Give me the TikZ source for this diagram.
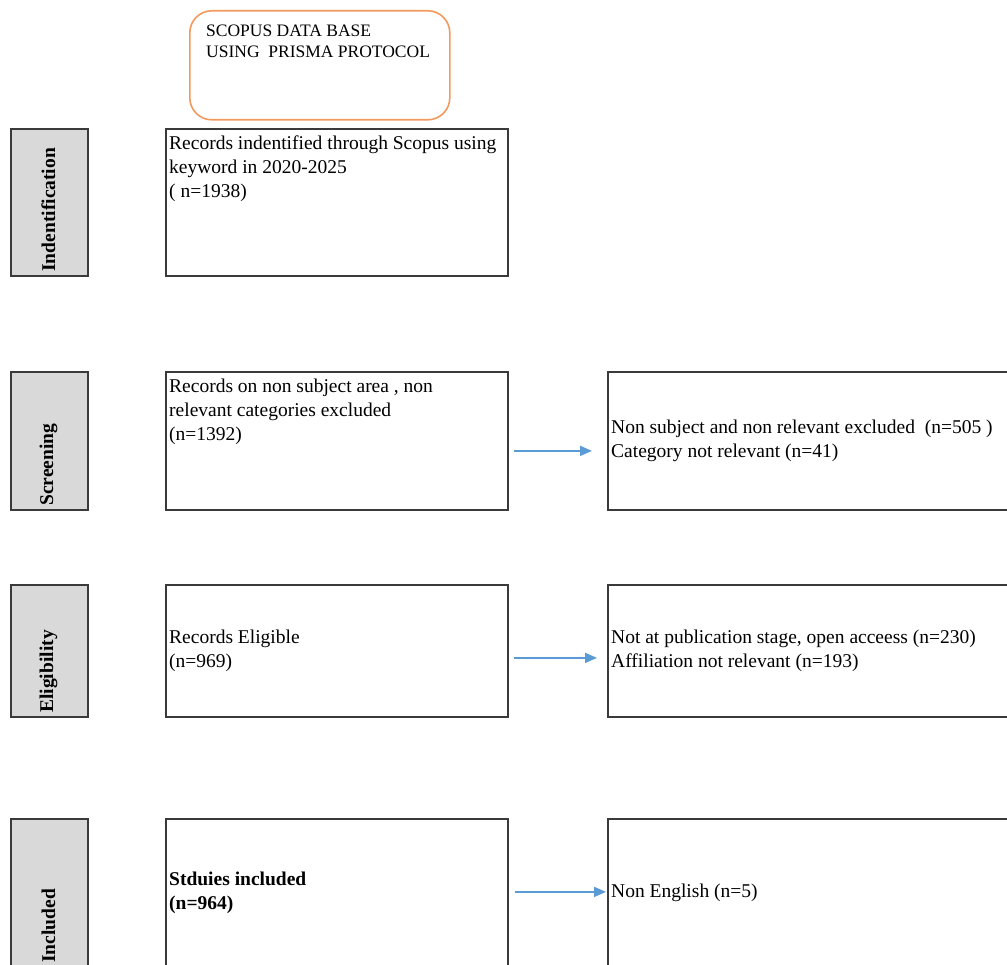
\documentclass[tikz,border=0pt]{standalone}
\usepackage{fontspec}
\setmainfont{Liberation Serif}
\usetikzlibrary{arrows.meta}
\definecolor{edge}{HTML}{3A3A3A}
\definecolor{sidefill}{HTML}{D9D9D9}
\definecolor{orangeline}{HTML}{F29A5E}
\definecolor{arrowblue}{HTML}{5B9BD5}
\tikzset{
  box/.style={draw=edge, line width=1.8pt, fill=white, inner sep=0pt, anchor=north west},
  sidebox/.style={box, fill=sidefill, minimum width=77pt},
  midbox/.style={box, minimum width=342pt},
  rightbox/.style={box, minimum width=460pt},
  topbox/.style={draw=orangeline, line width=1.6pt, rounded corners=22pt, fill=white, inner sep=0pt, anchor=north west, minimum width=260pt, minimum height=109pt},
  txt/.style={inner sep=0pt, align=left, font=\fontsize{19.5}{24}\selectfont, text=black},
  toptxt/.style={inner sep=0pt, align=left, font=\fontsize{17.5}{21}\selectfont, text=black},
  sidetxt/.style={inner sep=0pt, rotate=90, anchor=west, font=\fontsize{19.5}{24}\selectfont\bfseries},
  arr/.style={draw=arrowblue, line width=1.8pt, -{Triangle[length=12pt,width=10pt]}}
}
\begin{document}
\begin{tikzpicture}[x=1pt,y=-1pt]
\useasboundingbox (0,0) rectangle (1007,965);
\clip (0,0) rectangle (1007,965);
\fill[white] (0,0) rectangle (1007,965);

% top rounded box
\node[topbox] (top) at (189,10) {};
\node[toptxt, anchor=north west] (toptext) at ([xshift=17pt,yshift=-15pt]top.north west) {SCOPUS DATA BASE\\USING\ \ PRISMA PROTOCOL};

% side boxes
\node[sidebox, minimum height=147pt] (s1) at (10,128) {};
\node[sidebox, minimum height=138pt] (s2) at (10,371) {};
\node[sidebox, minimum height=132pt] (s3) at (10,584) {};
\node[sidebox, minimum height=148pt] (s4) at (10,818) {};
\node[sidetxt] (l1) at ([xshift=-1pt,yshift=5pt]s1.south) {Indentification};
\node[sidetxt] (l2) at ([xshift=-1pt,yshift=5pt]s2.south) {Screening};
\node[sidetxt] (l3) at ([xshift=-1pt,yshift=5pt]s3.south) {Eligibility};
\node[sidetxt] (l4) at ([xshift=-1pt,yshift=5pt]s4.south) {Included};

% middle boxes
\node[midbox, minimum height=147pt] (m1) at (165,128) {};
\node[midbox, minimum height=138pt] (m2) at (165,371) {};
\node[midbox, minimum height=132pt] (m3) at (165,584) {};
\node[midbox, minimum height=148pt] (m4) at (165,818) {};
\node[txt, anchor=north west] (t1) at ([xshift=4pt,yshift=-8pt]m1.north west) {Records indentified through Scopus using\\keyword in 2020-2025\\( n=1938)};
\node[txt, anchor=north west] (t2) at ([xshift=4pt,yshift=-8pt]m2.north west) {Records on non subject area , non\\relevant categories excluded\\(n=1392)};
\node[txt, anchor=west] (t3) at ([xshift=4pt]m3.west) {Records Eligible\\(n=969)};
\node[txt, anchor=west, font=\fontsize{19.5}{24}\selectfont\bfseries] (t4) at ([xshift=4pt]m4.west) {Stduies included\\(n=964)};

% right boxes
\node[rightbox, minimum height=138pt] (r2) at (607,371) {};
\node[rightbox, minimum height=132pt] (r3) at (607,584) {};
\node[rightbox, minimum height=148pt] (r4) at (607,818) {};
\node[txt, anchor=west] (u2) at ([xshift=4pt]r2.west) {Non subject and non relevant excluded\ \ (n=505 )\\Category not relevant (n=41)};
\node[txt, anchor=west] (u3) at ([xshift=4pt]r3.west) {Not at publication stage, open acceess (n=230)\\Affiliation not relevant (n=193)};
\node[txt, anchor=west] (u4) at ([xshift=4pt]r4.west) {Non English (n=5)};

% arrows
\draw[arr, shorten <=5pt, shorten >=15pt] ([yshift=-10pt]m2.east) -- ([yshift=-10pt]r2.west);
\draw[arr, shorten <=5pt, shorten >=10pt] ([yshift=-7pt]m3.east) -- ([yshift=-7pt]r3.west);
\draw[arr, shorten <=6pt, shorten >=1pt] ([yshift=1pt]m4.east) -- ([yshift=1pt]r4.west);
\end{tikzpicture}
\end{document}
